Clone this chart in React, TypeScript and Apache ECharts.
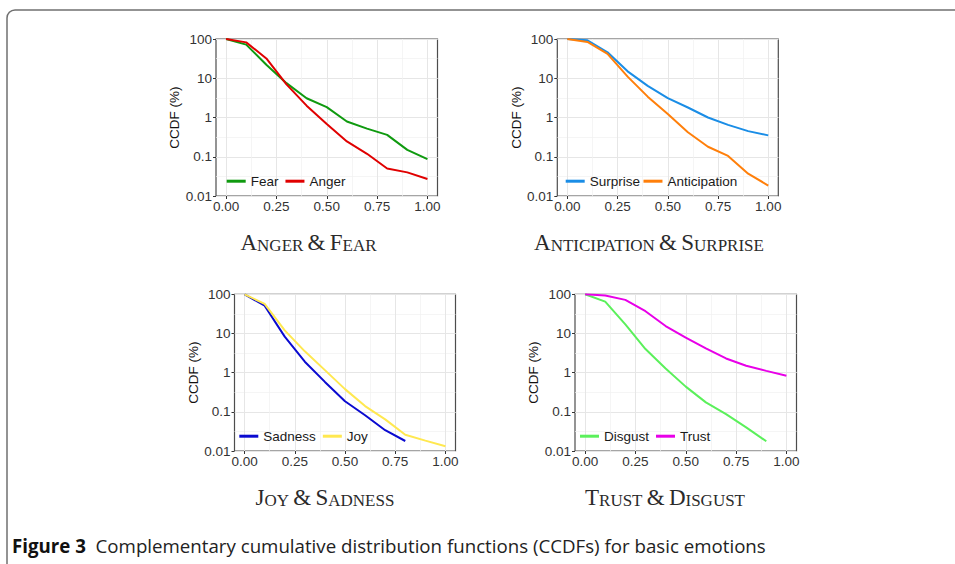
import React, { useEffect, useRef } from "react";
import * as echarts from "echarts";

// ---------- data ----------
const xValues = [0, 0.1, 0.2, 0.3, 0.4, 0.5, 0.6, 0.7, 0.8, 0.9, 1.0];

const fear = [100, 72, 22, 7.5, 3.1, 1.84, 0.79, 0.52, 0.36, 0.15, 0.087];
const anger = [100, 82, 32, 7, 2.0, 0.68, 0.245, 0.119, 0.05, 0.04, 0.027];
const surprise = [100, 93, 46, 15, 6.4, 3.1, 1.8, 1.0, 0.65, 0.45, 0.35];
const anticipation = [100, 84, 42, 11, 3.4, 1.22, 0.42, 0.18, 0.105, 0.037, 0.0185];
const sadness = [100, 51, 8.3, 1.9, 0.58, 0.186, 0.082, 0.034, 0.018];
const joy = [100, 57, 12, 3.5, 1.16, 0.38, 0.14, 0.064, 0.026, 0.0184, 0.0132];
const disgust = [100, 65, 17, 4.0, 1.28, 0.44, 0.174, 0.087, 0.04, 0.0177];
const trust = [100, 93, 72, 37, 15.5, 7.8, 4.15, 2.3, 1.5, 1.11, 0.83];

const xTickLabels = ["0.00", "0.25", "0.50", "0.75", "1.00"];
const yTickLabels = ["0.01", "0.1", "1", "10", "100"];
const yAxisTitle = "CCDF (%)";
const captions = ["Anger & Fear", "Anticipation & Surprise", "Joy & Sadness", "Trust & Disgust"];
const figureLabel = "Figure 3";
const figureText = "Complementary cumulative distribution functions (CCDFs) for basic emotions";

// ---------- layout / styles ----------
const SANS = "Liberation Sans, Arial, sans-serif";
const FS = 13.5;
const panels = [
  {
    series: [
      { name: "Fear", values: fear, color: "#0f9a0f" },
      { name: "Anger", values: anger, color: "#e00000" },
    ],
    rect: [216, 39, 437.5, 196],
    legendLeft: 226.7, legendCenter: 181.7, legendGap: 7,
    cap: { x: 308.5, y: 242.7 },
  },
  {
    series: [
      { name: "Surprise", values: surprise, color: "#1a8de6" },
      { name: "Anticipation", values: anticipation, color: "#ff7f0a" },
    ],
    rect: [557.3, 39, 778.3, 196],
    legendLeft: 565.7, legendCenter: 181.7, legendGap: 3.5,
    cap: { x: 649, y: 242.7 },
  },
  {
    series: [
      { name: "Sadness", values: sadness, color: "#0a0ad0" },
      { name: "Joy", values: joy, color: "#ffe850" },
    ],
    rect: [234.5, 294.3, 455.5, 451],
    legendLeft: 239.3, legendCenter: 436.7, legendGap: 7,
    cap: { x: 325, y: 497.7 },
  },
  {
    series: [
      { name: "Disgust", values: disgust, color: "#5bf05b" },
      { name: "Trust", values: trust, color: "#e800e8" },
    ],
    rect: [575, 294.3, 796.5, 451],
    legendLeft: 580, legendCenter: 436.7, legendGap: 7,
    cap: { x: 665, y: 497.7 },
  },
];

function smallCaps(s: string): string {
  return s
    .split(" ")
    .map((w) => (/^[A-Za-z]/.test(w) ? `{b|${w[0]}}{s|${w.slice(1).toUpperCase()}}` : `{b|${w}}`))
    .join("{s| }");
}

function buildOption() {
  const grids: any[] = [];
  const xAxes: any[] = [];
  const yAxes: any[] = [];
  const series: any[] = [];
  const legends: any[] = [];
  const graphics: any[] = [];

  graphics.push({
    type: "rect",
    shape: { x: 7, y: 10, width: 1100, height: 700, r: [8, 0, 0, 0] },
    style: { fill: "none", stroke: "#707070", lineWidth: 1.5 },
    silent: true,
  });

  panels.forEach((p, i) => {
    const [L, T, R, B] = p.rect;
    const W = R - L;
    const H = B - T;
    const pad = (W * 0.05) / 1.1;

    const gA = grids.length;
    grids.push({ left: L, top: T, width: W, height: H, show: true, borderColor: "#4d4d4d", borderWidth: 1.2, backgroundColor: "#fff", containLabel: false, outerBoundsMode: "none" });
    const gB = grids.length;
    grids.push({ left: L + pad, top: T, width: W - 2 * pad, height: H, show: false, containLabel: false, outerBoundsMode: "none" });

    xAxes.push({ type: "value", gridIndex: gA, min: -0.05, max: 1.05, show: false });
    const xB = xAxes.length;
    xAxes.push({
      type: "value",
      gridIndex: gB,
      position: "bottom",
      min: 0,
      max: 1,
      interval: 0.25,
      axisLine: { show: false },
      axisTick: { show: true, length: 3, lineStyle: { color: "#333", width: 1 } },
      axisLabel: {
        margin: 3,
        fontSize: FS,
        color: "#333",
        fontFamily: SANS,
        formatter: (v: number) => xTickLabels[Math.round(v / 0.25)],
      },
      splitLine: { show: true, lineStyle: { color: "#e6e6e6", width: 1 } },
      minorTick: { show: false, splitNumber: 2 },
      minorSplitLine: { show: true, lineStyle: { color: "#f0f0f0", width: 0.7 } },
    });

    // minor horizontal lines (half-decades)
    yAxes.push({
      type: "value",
      gridIndex: gA,
      position: "right",
      min: -2,
      max: 2,
      interval: 0.5,
      axisLine: { show: false },
      axisTick: { show: false },
      axisLabel: { show: false },
      splitLine: { show: true, lineStyle: { color: "#f0f0f0", width: 0.7 } },
    });
    // major log axis with labels
    yAxes.push({
      type: "log",
      logBase: 10,
      gridIndex: gA,
      position: "left",
      min: 0.01,
      max: 100,
      name: yAxisTitle,
      nameLocation: "middle",
      nameRotate: 90,
      nameGap: 31,
      nameTextStyle: { fontSize: FS, color: "#111", fontFamily: SANS },
      axisLine: { show: false },
      axisTick: { show: true, length: 3, lineStyle: { color: "#333", width: 1 } },
      axisLabel: {
        margin: 4,
        fontSize: FS,
        color: "#333",
        fontFamily: SANS,
        formatter: (v: number) => yTickLabels[Math.round(Math.log10(v)) + 2],
      },
      splitLine: { show: true, lineStyle: { color: "#e6e6e6", width: 1 } },
    });
    const yB = yAxes.length;
    yAxes.push({ type: "log", logBase: 10, gridIndex: gB, position: "left", min: 0.01, max: 100, show: false });

    p.series.forEach((s) => {
      series.push({
        type: "line",
        name: s.name,
        xAxisIndex: xB,
        yAxisIndex: yB,
        data: s.values.map((v, j) => [xValues[j], v]),
        symbol: "none",
        showSymbol: false,
        color: s.color,
        itemStyle: { color: s.color },
        lineStyle: { color: s.color, width: 2 },
        z: 3,
      });
    });

    legends.push({
      left: p.legendLeft,
      top: p.legendCenter - 7.5,
      orient: "horizontal",
      padding: 0,
      icon: "rect",
      itemWidth: 19,
      itemHeight: 3,
      itemGap: p.legendGap,
      selectedMode: false,
      data: p.series.map((s) => s.name),
      textStyle: { fontSize: FS, color: "#1a1a1a", fontFamily: SANS },
    });

    graphics.push({
      type: "text",
      x: p.cap.x,
      y: p.cap.y,
      silent: true,
      style: {
        text: smallCaps(captions[i]),
        align: "center",
        verticalAlign: "middle",
        rich: {
          b: { fontSize: 23, lineHeight: 23, verticalAlign: "bottom", fontFamily: "Liberation Serif, serif", fill: "#2a2a2a" },
          s: { fontSize: 17, lineHeight: 17, verticalAlign: "bottom", fontFamily: "Liberation Serif, serif", fill: "#2a2a2a" },
        },
      },
    });
  });

  graphics.push({
    type: "text",
    x: 12,
    y: 545,
    silent: true,
    style: {
      text: `{b|${figureLabel}}{r|  ${figureText}}`,
      align: "left",
      verticalAlign: "middle",
      rich: {
        b: { fontSize: 18.7, fontWeight: "bold", fontFamily: "Open Sans, sans-serif", fill: "#111" },
        r: { fontSize: 18.7, fontFamily: "Open Sans, sans-serif", fill: "#222" },
      },
    },
  });

  return {
    animation: false,
    backgroundColor: "#ffffff",
    textStyle: { fontFamily: SANS },
    grid: grids,
    xAxis: xAxes,
    yAxis: yAxes,
    legend: legends,
    series,
    graphic: graphics,
  };
}

export default function App() {
  const ref = useRef<HTMLDivElement>(null);
  useEffect(() => {
    if (!ref.current) return;
    const chart = echarts.init(ref.current, null, { renderer: "svg" });
    chart.setOption(buildOption() as any);
    return () => chart.dispose();
  }, []);
  return <div ref={ref} style={{ position: "fixed", left: 0, top: 0, width: 955, height: 564 }} />;
}
